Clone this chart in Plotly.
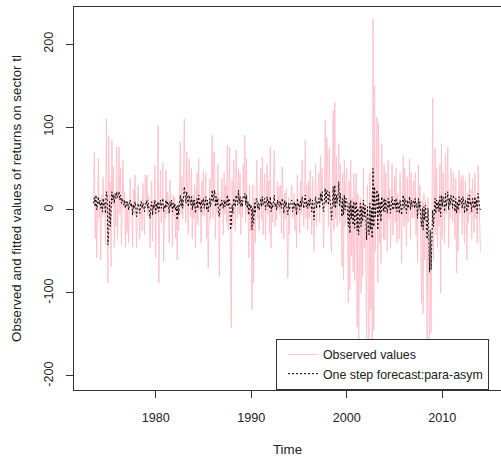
import numpy as np
import plotly.graph_objects as go

# Monthly series, starting July 1973
start_year, start_month = 1973, 7

obs_1970s = [
    12, 70, -35, 8, -58, 15,
    62, -10, 5, -60, 18, -8, 40, -5, 15, -42, 110, 10,
    -88, 90, -10, 35, -68, 84, 5, 52, -45, 8, -20, 76,
    -35, 12, 76, -5, 50, -42, 8, 60, 2, 22, -45, 10,
    -28, 5, -40, 15, 38, 2, 8, -45, 25, -5, 42, 0,
    -46, 10, 30, -5, -35, 12, 5, -25, 32, 3, -30, 42,
    5, 42, -8, 18, -30, -46, 10, 35, -38, 12, -5, 54,
]
obs_1980s = [
    -57, 10, -5, 102, -88, 15, 48, -15, 8, 57, -62, 5,
    -10, 48, -5, 22, 10, -40, 36, 2, 12, -44, 18, -8,
    15, -34, 5, -60, 10, -25, 35, 82, -5, 40, -10, 55,
    110, 25, -15, 70, 8, -30, 62, 12, -8, 50, -35, 18,
    -10, 30, -46, 5, 45, -18, 62, 0, 15, -40, 35, -5,
    48, -8, 12, 45, -35, 10, -70, 5, 38, -12, 55, 90,
    -10, 70, 66, -35, 20, -5, 55, 10, -80, 15, -5, 38,
    10, -30, 45, -5, 30, -15, 78, -24, 20, 76, -68, -142,
    35, -20, 60, 5, -25, 72, 10, -10, 50, -5, 44, -30,
    15, -8, 55, 20, 90, -15, 62, -5, 10, -58, 30, -25,
]
obs_1990s = [
    5, -120, 30, -88, 15, -40, 12, 60, -10, 10, -25, 40,
    50, -12, 64, -30, 8, 44, -36, 5, 55, -5, 35, -28,
    76, -46, 10, -15, 40, 72, -20, 5, -12, 35, 0, 28,
    -5, 30, -28, 52, 10, -35, 20, -10, 25, -40, -82, 15,
    -30, 5, 15, 30, -10, -2, 20, -25, 8, -46, 42, -5,
    10, -28, 35, -5, 60, 10, -20, 15, 84, -10, 30, -24,
    35, -10, 48, 5, -30, 40, 2, -50, 15, 55, -20, 10,
    20, 45, -15, 66, 10, 50, -10, -46, 15, 108, 5, 88,
    60, -20, 75, 10, -35, -52, 45, 120, -25, 130, -10, 65,
    -20, 40, 80, -15, 55, 10, -68, 45, -84, 60, -20, 36,
]
obs_2000s = [
    50, -20, -112, 35, -96, 60, -55, 15, -75, 44, -85, 10,
    44, -141, 20, -157, -60, 15, -100, 10, -80, 50, -45, 5,
    -60, -175, 30, -90, -168, 45, -120, 20, -165, 230, -145, 150,
    -50, 20, 112, -88, 104, -40, 10, -64, 80, 15, -35, 55,
    -36, 45, 10, -50, 60, -10, 25, -45, 8, 56, -30, 5,
    40, -15, 50, -40, 20, 8, -35, 45, -10, -64, 15, 66,
    -20, 50, 10, -44, 40, -15, 5, 62, -35, 45, -10, 20,
    35, -10, 45, -30, 5, -62, 54, -5, 30, -45, -112, 10,
    -125, 20, -60, 10, -45, -165, 15, -80, -185, -40, -148, -20,
    135, -60, 40, 75, -30, 50, -45, 10, -20, 55, -100, 80,
]
obs_2010s = [
    -35, 45, 10, -40, 68, -5, 30, 76, -45, 15, -10, 50,
    30, -15, 45, 5, -35, 38, -76, 10, -50, 48, -5, 30,
    40, -30, 42, 10, -40, 35, 5, -60, 20, -15, 45, -5,
    25, -35, 38, 5, -28, 45, -10, 15, -40, 54, 5, -30,
    -50,
]

fit_1970s = [
    8, 15, 4, 18, 0, 12,
    16, 6, 12, 2, 10, -2, 14, 5, 8, -4, 22, 18,
    -42, -30, 10, -20, 5, 22, 12, 18, 8, 20, 14, 22,
    15, 20, 22, 12, 18, 8, 14, 10, 6, 12, 2, 10,
    5, 10, 0, 8, 12, 4, 8, -6, 6, 2, 10, 4,
    -8, 2, 8, 4, -4, 6, 10, 2, 8, 4, -2, 8,
    6, 12, 2, 8, -4, -10, 4, 10, -6, 6, 2, 12,
]
fit_1980s = [
    -4, 8, 2, 10, -2, 6, 12, 2, 8, 14, -2, 6,
    2, 12, 4, 10, 6, -4, 10, 4, 12, -2, 8, 2,
    8, 0, 4, -12, 6, -6, 10, 18, 4, 14, 2, 16,
    28, 18, 8, 22, 12, 4, 18, 10, 6, 16, 0, 12,
    4, 12, -4, 6, 14, 2, 18, 6, 10, -2, 12, 6,
    14, 2, 10, 16, 0, 12, -2, 8, 14, 4, 18, 24,
    10, 22, 24, 4, 16, 6, 14, -4, -8, 8, 4, 12,
    8, 2, 12, 4, 10, 6, 18, 4, 14, 10, -24, -18,
    6, -4, 14, 8, 4, 18, 12, 6, 24, 8, 16, 4,
    12, 4, 16, 14, 20, 6, 18, 2, 10, -6, 8, 2,
]
fit_1990s = [
    6, -24, 2, -16, 8, -4, 12, 14, 2, 8, 0, 10,
    14, 4, 16, 6, 8, 14, 0, 10, 16, 4, 12, 2,
    16, -2, 8, 2, 10, 18, 4, 8, 0, 12, 6, 10,
    4, 10, 2, 14, 8, -4, 12, 4, 10, -2, -6, 8,
    0, 8, 10, 12, -2, 4, 10, 2, 8, -6, 14, 4,
    8, 0, 12, 4, 16, 8, 2, 12, 18, 4, 10, 2,
    12, 4, 14, 8, -2, 12, 2, -12, 8, 16, 2, 10,
    8, 14, 2, 20, 10, 22, 4, -2, 14, 26, 8, 24,
    20, 6, 22, 14, 2, -12, 16, 28, 4, 30, 2, 18,
    8, 16, 34, 4, 20, 10, -8, 14, -6, 18, 0, 14,
]
fit_2000s = [
    12, -4, -20, 8, -28, 12, -10, 6, -18, 10, -22, 4,
    10, -25, 2, -30, -10, 8, -20, 4, -14, 12, -8, 6,
    -6, -36, 4, -16, -30, 8, -24, 2, -34, 50, -20, 28,
    -8, 6, 24, -24, 20, -6, 10, -14, 16, 6, -2, 14,
    -2, 12, 6, -4, 14, 2, 10, -4, 8, 16, 0, 6,
    12, 2, 14, -2, 10, 6, -4, 12, 2, -6, 10, 18,
    2, 14, 8, -4, 12, 2, 8, 16, 0, 12, 4, 10,
    12, 2, 14, 4, 8, -10, 14, 2, 10, -8, -20, 2,
    -24, 4, -12, 6, -8, -35, 2, -18, -75, -24, -72, -30,
    0, -20, 8, 14, -4, 12, 2, 10, -2, 16, -8, 18,
]
fit_2010s = [
    4, 16, 10, -2, 20, 4, 12, 22, 0, 14, 6, 18,
    12, 2, 18, 10, -2, 14, -4, 10, 0, 16, 6, 12,
    14, 2, 16, 10, -4, 12, 8, -2, 14, 4, 18, 6,
    10, -2, 14, 8, 2, 16, 4, 12, -4, 20, 10, 2,
    0,
]

observed = obs_1970s + obs_1980s + obs_1990s + obs_2000s + obs_2010s
fitted = fit_1970s + fit_1980s + fit_1990s + fit_2000s + fit_2010s
time = start_year + (start_month - 1) / 12 + np.arange(len(observed)) / 12

x_ticks = [1980, 1990, 2000, 2010]
y_ticks = [-200, -100, 0, 100, 200]

axis_col = "#333333"
text_col = "#222222"
font_family = "Liberation Sans, Arial, sans-serif"

fig = go.Figure()
fig.add_trace(go.Scatter(
    x=time, y=observed, mode="lines", name="Observed values",
    line=dict(color="pink", width=0.9),
))
fig.add_trace(go.Scatter(
    x=time, y=fitted, mode="lines", name="One step forecast:para-asym",
    line=dict(color="black", width=1, dash="2px,2px"),
))

fig.update_layout(
    width=501, height=462,
    margin=dict(l=74, r=0, t=7, b=72),
    plot_bgcolor="white", paper_bgcolor="white",
    font=dict(family=font_family, size=12.6, color=text_col),
    legend=dict(
        x=0.473, y=0, xanchor="left", yanchor="bottom",
        bgcolor="white", bordercolor=axis_col, borderwidth=1,
        font=dict(size=12.4, color=text_col),
        itemwidth=30, indentation=6,
    ),
    showlegend=True,
)
fig.update_xaxes(
    range=[1971.45, 2016.15], tickvals=x_ticks, ticktext=[str(v) for v in x_ticks],
    ticks="outside", ticklen=7, tickcolor=axis_col, tickwidth=1,
    showline=True, linecolor=axis_col, linewidth=1, mirror=True,
    showgrid=False, zeroline=False, automargin=False,
    ticklabelstandoff=9,
    title=dict(text="Time", standoff=20, font=dict(size=13.3, color=text_col)),
)
fig.update_yaxes(
    range=[-216.9, 244.6], tickvals=y_ticks, ticktext=[str(v) for v in y_ticks],
    tickangle=-90,
    ticks="outside", ticklen=7, tickcolor=axis_col, tickwidth=1,
    showline=True, linecolor=axis_col, linewidth=1,
    showgrid=False, zeroline=False, automargin=False,
    ticklabelstandoff=8,
    title=dict(text="Observed and fitted values of returns on sector tl", standoff=17,
               font=dict(size=13.3, color=text_col)),
)

fig.write_html("out.html")
